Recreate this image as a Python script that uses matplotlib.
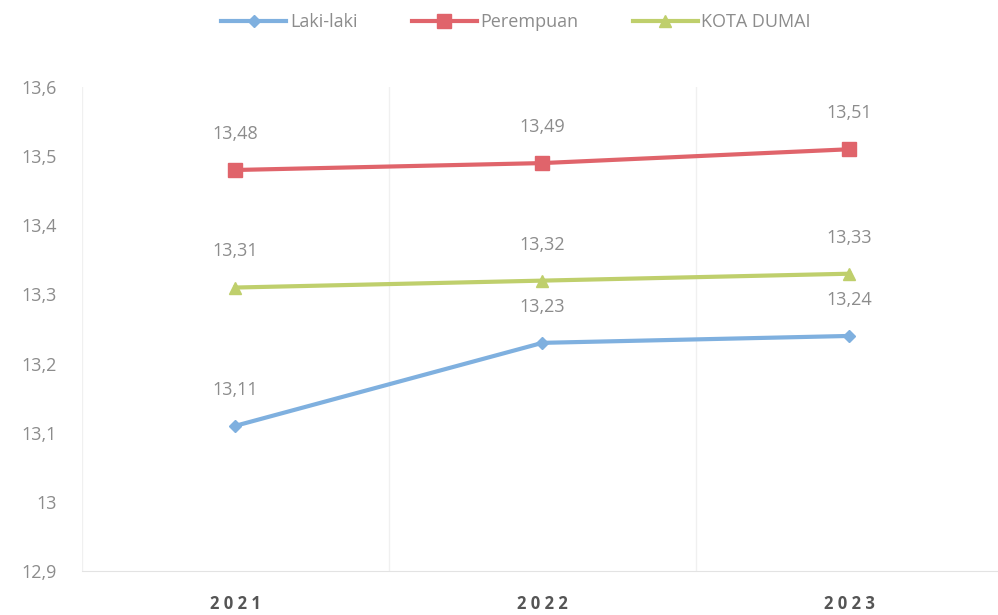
import matplotlib
matplotlib.use('Agg')
from matplotlib import pyplot as plt

plt.rcParams['font.family'] = ['Open Sans', 'DejaVu Sans']

years = ['2021', '2022', '2023']
laki = [13.11, 13.23, 13.24]
perempuan = [13.48, 13.49, 13.51]
kota = [13.31, 13.32, 13.33]

yticks = [12.9, 13.0, 13.1, 13.2, 13.3, 13.4, 13.5, 13.6]
ytick_labels = ['12,9', '13', '13,1', '13,2', '13,3', '13,4', '13,5', '13,6']

fig = plt.figure(figsize=(9.98, 6.15), dpi=100)
ax = fig.add_axes([0.082, 0.0715, 0.923, 0.787])

x = range(len(years))
series = [
    (laki, 'Laki-laki', '#7fb0df', 'D', 6),
    (perempuan, 'Perempuan', '#e0646b', 's', 10),
    (kota, 'KOTA DUMAI', '#bfcf6c', '^', 9),
]
for vals, name, col, mk, ms in series:
    ax.plot(x, vals, color=col, lw=3, marker=mk, markersize=ms, label=name)
    for xi, v in zip(x, vals):
        ax.annotate(('%.2f' % v).replace('.', ','), (xi, v), xytext=(0, 26),
                    textcoords='offset points', ha='center', va='center',
                    fontsize=13, color='#8c8c8c')

ax.set_xlim(-0.5, 2.5)
ax.set_ylim(12.9, 13.6)
ax.set_yticks(yticks)
ax.set_yticklabels(ytick_labels, fontsize=13, color='#8c8c8c')
ax.set_xticks(list(x))
ax.set_xticklabels([' '.join(y) for y in years], fontsize=12, color='#555555',
                   fontweight='bold')
ax.tick_params(axis='both', length=0)
ax.tick_params(axis='y', pad=18)
ax.tick_params(axis='x', pad=17)

for b in [-0.5, 0.5, 1.5]:
    ax.axvline(b, color='#f0f0f0', lw=1, zorder=0)
for s in ['top', 'right', 'left']:
    ax.spines[s].set_visible(False)
ax.spines['bottom'].set_color('#e3e3e3')

leg = fig.legend(loc='center', bbox_to_anchor=(0.517, 0.964), ncol=3, frameon=False,
                 fontsize=13, handlelength=3.6, columnspacing=3.0, handletextpad=0.2)
for t in leg.get_texts():
    t.set_color('#8c8c8c')

fig.savefig('out.png', dpi=100)
